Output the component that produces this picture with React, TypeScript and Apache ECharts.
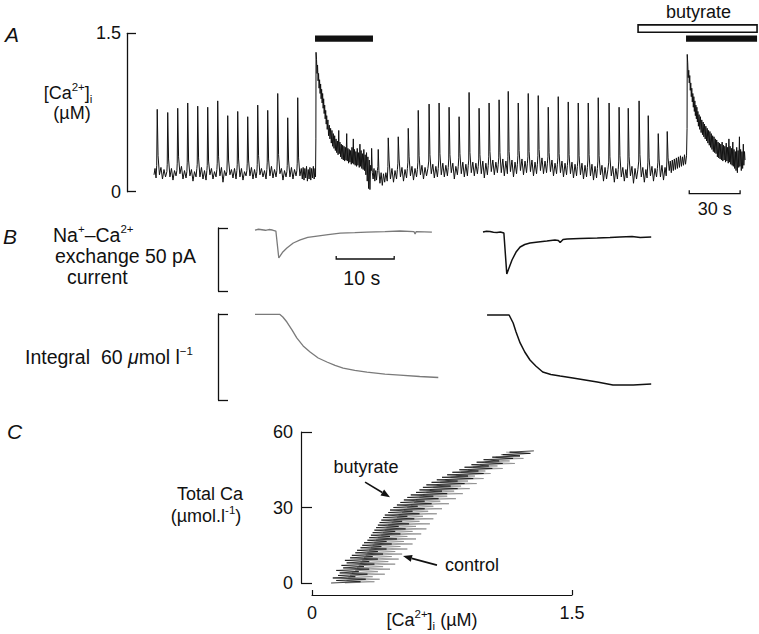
import React, { useEffect, useRef } from "react";
import * as echarts from "echarts";

const FONT = "'Liberation Sans', Arial, Helvetica, sans-serif";
const INK = "#111";
const GREY = "#7a7a7a";

// ---------- Panel A: [Ca2+]i trace (time s, µM) ----------
const caControl1: number[][] = [
  [0, 0.16], [0.6, 0.22], [1.2, 0.13], [1.6, 0.25],
  [1.9, 0.78], [2.4, 0.34], [3.2, 0.16], [4.1, 0.23], [5.0, 0.12], [5.9, 0.21], [6.8, 0.14], [7.6, 0.19], [7.8, 0.26],
  [8.1, 0.75], [8.6, 0.31], [9.4, 0.14], [10.3, 0.22], [11.2, 0.11], [12.1, 0.2], [13.0, 0.15], [13.5, 0.2], [13.7, 0.27],
  [14.0, 0.79], [14.5, 0.33], [15.3, 0.17], [16.2, 0.24], [17.1, 0.12], [18.0, 0.2], [18.9, 0.13], [19.4, 0.19], [19.6, 0.28],
  [19.9, 0.84], [20.4, 0.3], [21.2, 0.15], [22.1, 0.21], [23.0, 0.1], [23.9, 0.19], [24.8, 0.14], [25.3, 0.22], [25.5, 0.26],
  [25.8, 0.81], [26.3, 0.32], [27.1, 0.14], [28.0, 0.23], [28.9, 0.12], [29.8, 0.2], [30.7, 0.11], [31.2, 0.2], [31.4, 0.25],
  [31.7, 0.8], [32.2, 0.29], [33.0, 0.16], [33.9, 0.22], [34.8, 0.12], [35.7, 0.19], [36.6, 0.14], [37.1, 0.21], [37.3, 0.27],
  [37.6, 0.86], [38.1, 0.33], [38.9, 0.15], [39.8, 0.23], [40.7, 0.09], [41.6, 0.2], [42.5, 0.15], [43.0, 0.19], [43.2, 0.3],
  [43.5, 0.72], [44.0, 0.3], [44.8, 0.16], [45.7, 0.21], [46.6, 0.13], [47.5, 0.22], [48.4, 0.12], [48.9, 0.2], [49.1, 0.26],
  [49.4, 0.76], [49.9, 0.31], [50.7, 0.14], [51.6, 0.22], [52.5, 0.11], [53.4, 0.19], [54.3, 0.15], [54.8, 0.2], [55.0, 0.27],
  [55.3, 0.71], [55.8, 0.3], [56.6, 0.15], [57.5, 0.23], [58.4, 0.12], [59.3, 0.21], [60.2, 0.13], [60.7, 0.19], [60.9, 0.26],
  [61.2, 0.82], [61.7, 0.34], [62.5, 0.16], [63.4, 0.22], [64.3, 0.14], [65.2, 0.2], [66.1, 0.12], [66.6, 0.21], [66.8, 0.28],
  [67.1, 0.77], [67.6, 0.31], [68.4, 0.15], [69.3, 0.24], [70.2, 0.13], [71.1, 0.21], [72.0, 0.14], [72.5, 0.2], [72.7, 0.29],
  [73.0, 0.93], [73.5, 0.35], [74.3, 0.17], [75.2, 0.22], [76.1, 0.11], [77.0, 0.2], [77.9, 0.14], [78.4, 0.19], [78.6, 0.25],
  [78.9, 0.7], [79.4, 0.3], [80.2, 0.14], [81.1, 0.23], [82.0, 0.12], [82.9, 0.21], [83.8, 0.15], [84.3, 0.2], [84.5, 0.27],
  [84.8, 0.89], [85.3, 0.32], [86.1, 0.15], [86.9, 0.22],
  [87.5, 0.12], [88.0, 0.23], [88.5, 0.11], [89.0, 0.22], [89.5, 0.13], [90.0, 0.24], [90.5, 0.1], [91.0, 0.21],
  [91.5, 0.12], [92.0, 0.23], [92.5, 0.11], [93.0, 0.22], [93.5, 0.13], [94.0, 0.24], [94.5, 0.12], [95.0, 0.22], [95.3, 0.14],
];

const caFirstRelease: number[][] = [
  [95.5, 0.5], [95.6, 1.32],
  [95.9, 1.25], [96.2, 1.12], [96.5, 1.2], [96.8, 1.05], [97.1, 1.12], [97.4, 0.98], [97.7, 1.06], [98.0, 0.93],
  [98.3, 1.02], [98.6, 0.88], [98.9, 0.97], [99.2, 0.84], [99.5, 0.93], [99.8, 0.79], [100.1, 0.88], [100.4, 0.74],
  [100.7, 0.82], [101.0, 0.69], [101.3, 0.77], [101.6, 0.64], [101.9, 0.72], [102.2, 0.59], [102.6, 0.68], [103.0, 0.53],
  [103.4, 0.63], [103.8, 0.5], [104.2, 0.6], [104.6, 0.46], [105.0, 0.58], [105.4, 0.43], [105.8, 0.55], [106.2, 0.41],
  [106.6, 0.53], [107.0, 0.39], [107.4, 0.5], [107.8, 0.37], [108.2, 0.48], [108.6, 0.35], [109.0, 0.58], [109.3, 0.36],
  [109.7, 0.47], [110.1, 0.33], [110.5, 0.45], [110.9, 0.31], [111.3, 0.44], [111.7, 0.3], [112.1, 0.43], [112.5, 0.29],
  [112.9, 0.42], [113.3, 0.3], [113.7, 0.55], [114.0, 0.29], [114.4, 0.41], [114.8, 0.27], [115.2, 0.4], [115.6, 0.28],
  [116.0, 0.39], [116.4, 0.26], [116.8, 0.42], [117.2, 0.27], [117.6, 0.5], [117.9, 0.26], [118.3, 0.4], [118.7, 0.25],
  [119.1, 0.38], [119.5, 0.24], [119.9, 0.41], [120.3, 0.25], [120.7, 0.37], [121.1, 0.23], [121.5, 0.45], [121.8, 0.24],
  [122.2, 0.39], [122.6, 0.22], [123.0, 0.36], [123.4, 0.21], [123.8, 0.4], [124.2, 0.2], [124.6, 0.35], [125.0, 0.16],
  [125.4, 0.37], [125.8, 0.1], [126.2, 0.33], [126.6, 0.03], [127.0, 0.3], [127.4, 0.02], [127.8, 0.25],
];

const caControl2: number[][] = [
  [128.2, 0.2], [128.4, 0.41], [128.8, 0.18], [129.3, 0.12], [129.8, 0.22], [130.3, 0.1], [130.8, 0.2], [131.3, 0.11], [131.8, 0.2], [132.1, 0.24],
  [132.3, 0.4], [132.7, 0.2], [133.3, 0.08], [134.0, 0.18], [134.7, 0.06], [135.4, 0.17], [136.1, 0.09], [136.8, 0.18], [137.6, 0.1], [138.0, 0.24],
  [138.2, 0.51], [138.7, 0.3], [139.5, 0.12], [140.4, 0.22], [141.3, 0.09], [142.2, 0.2], [143.1, 0.12], [143.6, 0.21],
  [143.9, 0.27], [144.1, 0.52], [144.6, 0.31], [145.4, 0.14], [146.3, 0.23], [147.2, 0.1], [148.1, 0.21], [149.0, 0.13], [149.5, 0.22],
  [149.8, 0.28], [150.0, 0.6], [150.5, 0.33], [151.3, 0.15], [152.2, 0.24], [153.1, 0.11], [154.0, 0.22], [154.9, 0.14], [155.4, 0.21],
  [155.7, 0.28], [155.9, 0.77], [156.4, 0.34], [157.2, 0.16], [158.1, 0.25], [159.0, 0.12], [159.9, 0.23], [160.8, 0.15], [161.6, 0.22],
  [162.1, 0.29], [162.3, 0.83], [162.8, 0.35], [163.6, 0.17], [164.5, 0.26], [165.4, 0.13], [166.3, 0.24], [167.2, 0.14], [167.7, 0.22],
  [168.0, 0.3], [168.2, 0.84], [168.7, 0.36], [169.5, 0.16], [170.4, 0.27], [171.3, 0.14], [172.2, 0.25], [173.1, 0.15], [173.6, 0.23],
  [173.9, 0.31], [174.1, 0.8], [174.6, 0.35], [175.4, 0.18], [176.3, 0.27], [177.2, 0.12], [178.1, 0.24], [179.0, 0.16], [179.5, 0.24],
  [179.8, 0.32], [180.0, 0.71], [180.5, 0.36], [181.3, 0.17], [182.2, 0.28], [183.1, 0.14], [184.0, 0.26], [184.9, 0.15], [185.4, 0.25],
  [185.7, 0.3], [185.9, 0.94], [186.4, 0.37], [187.2, 0.18], [188.1, 0.28], [189.0, 0.15], [189.9, 0.27], [190.8, 0.17], [191.3, 0.24],
  [191.6, 0.31], [191.8, 0.79], [192.3, 0.35], [193.1, 0.17], [194.0, 0.29], [194.9, 0.13], [195.8, 0.27], [196.7, 0.16], [197.2, 0.25],
  [197.5, 0.33], [197.7, 0.84], [198.2, 0.38], [199.0, 0.19], [199.9, 0.3], [200.8, 0.16], [201.7, 0.28], [202.6, 0.18], [203.1, 0.26],
  [203.4, 0.32], [203.6, 0.87], [204.1, 0.37], [204.9, 0.18], [205.8, 0.31], [206.7, 0.15], [207.6, 0.29], [208.5, 0.17],
  [208.8, 0.33], [209.0, 0.95], [209.5, 0.38], [210.3, 0.19], [211.2, 0.3], [212.1, 0.14], [213.0, 0.28], [213.9, 0.17], [214.4, 0.26],
  [214.7, 0.34], [214.9, 0.84], [215.4, 0.39], [216.2, 0.2], [217.1, 0.31], [218.0, 0.16], [218.9, 0.29], [219.8, 0.18], [220.3, 0.27],
  [220.6, 0.33], [220.8, 0.93], [221.3, 0.38], [222.1, 0.19], [223.0, 0.3], [223.9, 0.15], [224.8, 0.28], [225.7, 0.17], [226.2, 0.26],
  [226.5, 0.34], [226.7, 0.91], [227.2, 0.4], [228.0, 0.2], [228.9, 0.32], [229.8, 0.17], [230.7, 0.29], [231.6, 0.18], [232.1, 0.27],
  [232.4, 0.33], [232.6, 0.8], [233.1, 0.37], [233.9, 0.19], [234.8, 0.3], [235.7, 0.15], [236.6, 0.27], [237.5, 0.17], [238.0, 0.26],
  [238.3, 0.32], [238.5, 0.9], [239.0, 0.36], [239.8, 0.18], [240.7, 0.29], [241.6, 0.14], [242.5, 0.27], [243.4, 0.16], [243.9, 0.25],
  [244.2, 0.31], [244.4, 0.85], [244.9, 0.35], [245.7, 0.17], [246.6, 0.28], [247.5, 0.13], [248.4, 0.26], [249.3, 0.15], [249.8, 0.24],
  [250.1, 0.3], [250.3, 0.84], [250.8, 0.34], [251.6, 0.16], [252.5, 0.27], [253.4, 0.12], [254.3, 0.25], [255.2, 0.14], [255.7, 0.23],
  [256.0, 0.3], [256.2, 0.84], [256.7, 0.35], [257.5, 0.15], [258.4, 0.26], [259.3, 0.11], [260.2, 0.24], [261.1, 0.13], [261.6, 0.22],
  [261.9, 0.29], [262.1, 0.89], [262.6, 0.34], [263.4, 0.16], [264.3, 0.25], [265.2, 0.1], [266.1, 0.23], [267.0, 0.12], [267.8, 0.21],
  [268.3, 0.28], [268.5, 0.84], [269.0, 0.33], [269.8, 0.15], [270.7, 0.24], [271.6, 0.09], [272.5, 0.22], [273.4, 0.12], [273.9, 0.21],
  [274.2, 0.29], [274.4, 0.8], [274.9, 0.34], [275.7, 0.14], [276.6, 0.23], [277.5, 0.1], [278.4, 0.21], [279.1, 0.13],
  [279.6, 0.28], [279.8, 0.79], [280.3, 0.33], [281.1, 0.15], [282.0, 0.24], [282.9, 0.08], [283.8, 0.22], [284.7, 0.12], [285.5, 0.21],
  [286.0, 0.29], [286.2, 0.86], [286.7, 0.35], [287.5, 0.14], [288.4, 0.23], [289.3, 0.09], [290.2, 0.21], [290.9, 0.13],
  [291.4, 0.28], [291.6, 0.72], [292.1, 0.32], [292.9, 0.15], [293.8, 0.24], [294.7, 0.1], [295.6, 0.22], [296.5, 0.14], [297.0, 0.22],
  [297.3, 0.28], [297.5, 0.55], [298.0, 0.31], [298.8, 0.14], [299.7, 0.25], [300.6, 0.11], [301.5, 0.23], [302.2, 0.15],
  [302.6, 0.29], [302.8, 0.57], [303.3, 0.32], [304.0, 0.2], [304.6, 0.29], [305.2, 0.18], [305.8, 0.3], [306.4, 0.2],
  [307.0, 0.31], [307.6, 0.21], [308.2, 0.32], [308.8, 0.22], [309.4, 0.33], [310.0, 0.23], [310.6, 0.34], [311.2, 0.24],
  [311.8, 0.33], [312.4, 0.25], [313.0, 0.35], [313.6, 0.26], [314.2, 0.34],
];

const caButyrate: number[][] = [
  [314.5, 0.6], [314.6, 1.3],
  [314.9, 1.22], [315.2, 1.08], [315.5, 1.15], [315.8, 1.03], [316.1, 1.1], [316.4, 0.96], [316.7, 1.03], [317.0, 0.9],
  [317.3, 0.98], [317.6, 0.85], [317.9, 0.93], [318.2, 0.8], [318.5, 0.9], [318.8, 0.76], [319.1, 0.86], [319.4, 0.72],
  [319.7, 0.82], [320.0, 0.69], [320.3, 0.8], [320.6, 0.66], [320.9, 0.76], [321.2, 0.62], [321.6, 0.73], [322.0, 0.59],
  [322.4, 0.71], [322.8, 0.56], [323.2, 0.68], [323.6, 0.54], [324.0, 0.66], [324.4, 0.52], [324.8, 0.64], [325.2, 0.5],
  [325.6, 0.62], [326.0, 0.48], [326.4, 0.6], [326.8, 0.46], [327.2, 0.58], [327.6, 0.44], [328.0, 0.57], [328.4, 0.42],
  [328.8, 0.55], [329.2, 0.4], [329.6, 0.53], [330.0, 0.38], [330.4, 0.52], [330.8, 0.37], [331.2, 0.5], [331.6, 0.36],
  [332.0, 0.49], [332.4, 0.33], [332.8, 0.47], [333.2, 0.32], [333.6, 0.46], [334.0, 0.31], [334.4, 0.45], [334.8, 0.3],
  [335.2, 0.47], [335.6, 0.29], [336.0, 0.44], [336.4, 0.3], [336.8, 0.43], [337.2, 0.28], [337.6, 0.46], [338.0, 0.29],
  [338.4, 0.42], [338.8, 0.27], [339.2, 0.5], [339.5, 0.28], [339.9, 0.43], [340.3, 0.26], [340.7, 0.41], [341.1, 0.25],
  [341.5, 0.47], [341.8, 0.24], [342.2, 0.4], [342.6, 0.22], [343.0, 0.38], [343.4, 0.2], [343.8, 0.42], [344.2, 0.18],
  [344.6, 0.39], [345.0, 0.23], [345.4, 0.52], [345.7, 0.24], [346.1, 0.4], [346.5, 0.2], [346.9, 0.38], [347.3, 0.22],
  [347.7, 0.45], [348.0, 0.25], [348.4, 0.38], [348.7, 0.3],
];

// application bars (s) and time scale bar
const firstBar = [95.0, 129.2];
const butyrateOpenBar = [285.6, 355.8];
const secondBar = [313.9, 355.8];
const timeScaleA = [315.8, 345.8]; // 30 s

// ---------- Panel B: exchange current (pA) and its integral (µmol/l) ----------
const currentControl: number[][] = [
  [0, -1.6], [0.6, -1.0], [1.2, -1.4], [1.8, -1.8], [2.4, -1.2], [3.0, -1.6], [3.6, -2.4], [4.1, -23.8],
  [4.8, -19.0], [5.5, -15.9], [6.6, -11.9], [7.8, -9.5], [9.1, -7.5], [10.7, -6.4], [12.6, -5.2], [14.7, -4.0],
  [17.2, -3.6], [19.3, -3.2], [22.4, -2.8], [25.0, -2.4], [27.4, -2.8], [27.6, -4.8], [27.8, -2.8], [29.2, -3.0], [30.5, -3.2],
];
const currentButyrate: number[][] = [
  [0, -3.2], [0.6, -2.6], [1.2, -2.8], [1.8, -3.4], [2.4, -3.6], [3.0, -3.2], [3.6, -4.0], [4.1, -36.5],
  [5.0, -25.4], [5.7, -19.1], [6.4, -15.1], [7.2, -13.1], [8.1, -11.9], [9.5, -11.1], [11.0, -10.3], [12.4, -9.5],
  [13.0, -9.9], [13.3, -11.5], [13.8, -9.1], [14.5, -8.7], [16.7, -8.3], [19.7, -7.9], [21.9, -7.5], [23.6, -7.1],
  [25.7, -6.7], [27.1, -7.5], [29.0, -7.1],
];
const integralControl: number[][] = [
  [0, -0.3], [4.3, -0.3], [4.8, -2.1], [5.5, -5.6], [6.4, -11.2], [7.2, -16.7], [8.3, -22.3], [9.5, -26.5],
  [10.9, -30.7], [12.4, -33.5], [13.8, -35.9], [15.2, -37.7], [17.2, -39.4], [19.3, -40.5], [22.4, -41.9],
  [25.0, -42.6], [28.4, -43.6], [31.6, -44.3],
];
const integralButyrate: number[][] = [
  [0.7, -0.7], [4.5, -0.7], [5.2, -6.3], [5.7, -12.6], [6.4, -20.2], [7.2, -26.5], [8.1, -32.1], [9.1, -36.3],
  [10.3, -40.5], [11.7, -42.2], [13.3, -43.3], [15.5, -44.7], [17.6, -46.1], [19.7, -47.5], [22.4, -49.5],
  [25.9, -49.5], [29.0, -48.8],
];
const timeScaleB = [14, 24]; // 10 s

// ---------- Panel C: total Ca (µmol/l) vs [Ca2+]i (µM) ----------
const totalCaControl: number[][] = [
  [0.19, 0], [0.36, 0.5], [0.2, 1], [0.39, 1.5], [0.21, 2], [0.35, 2.5], [0.22, 3], [0.42, 3.5], [0.23, 4], [0.38, 4.5],
  [0.25, 5], [0.45, 5.5], [0.26, 6], [0.41, 6.5], [0.27, 7], [0.48, 7.5], [0.28, 8], [0.44, 8.5], [0.29, 9], [0.5, 9.5],
  [0.3, 10], [0.46, 10.5], [0.31, 11], [0.52, 11.5], [0.32, 12], [0.48, 12.5], [0.33, 13], [0.55, 13.5], [0.34, 14], [0.51, 14.5],
  [0.35, 15], [0.58, 15.5], [0.36, 16], [0.53, 16.5], [0.37, 17], [0.6, 17.5], [0.38, 18], [0.55, 18.5], [0.4, 19], [0.63, 19.5],
  [0.41, 20], [0.58, 20.5], [0.42, 21], [0.66, 21.5], [0.43, 22], [0.6, 22.5], [0.44, 23], [0.68, 23.5], [0.46, 24], [0.62, 24.5],
  [0.47, 25], [0.7, 25.5], [0.49, 26], [0.64, 26.5], [0.5, 27], [0.72, 27.5], [0.52, 28], [0.67, 28.5], [0.53, 29], [0.75, 29.5],
  [0.55, 30], [0.7, 30.5], [0.57, 31], [0.79, 31.5], [0.59, 32], [0.74, 32.5], [0.6, 33], [0.83, 33.5], [0.62, 34], [0.78, 34.5],
  [0.64, 35], [0.87, 35.5], [0.66, 36], [0.82, 36.5], [0.68, 37], [0.91, 37.5], [0.7, 38], [0.86, 38.5], [0.72, 39], [0.95, 39.5],
  [0.74, 40], [0.9, 40.5], [0.77, 41], [0.99, 41.5], [0.8, 42], [0.94, 42.5], [0.83, 43], [1.03, 43.5], [0.86, 44], [1.0, 44.5],
  [0.9, 45], [1.1, 45.5], [0.93, 46], [1.07, 46.5], [0.97, 47], [1.17, 47.5], [1.0, 48], [1.14, 48.5], [1.03, 49], [1.22, 49.5],
  [1.06, 50], [1.2, 50.5], [1.09, 51], [1.25, 51.5], [1.12, 52],
];
const totalCaButyrate: number[][] = [
  [0.11, 0], [0.28, 0.5], [0.14, 1], [0.31, 1.5], [0.12, 2], [0.25, 2.5], [0.15, 3], [0.32, 3.5], [0.16, 4], [0.27, 4.5],
  [0.14, 5], [0.33, 5.5], [0.18, 6], [0.3, 6.5], [0.17, 7], [0.36, 7.5], [0.2, 8], [0.33, 8.5], [0.19, 9], [0.38, 9.5],
  [0.22, 10], [0.35, 10.5], [0.23, 11], [0.41, 11.5], [0.25, 12], [0.38, 12.5], [0.26, 13], [0.43, 13.5], [0.28, 14], [0.4, 14.5],
  [0.29, 15], [0.46, 15.5], [0.3, 16], [0.43, 16.5], [0.32, 17], [0.49, 17.5], [0.33, 18], [0.45, 18.5], [0.34, 19], [0.51, 19.5],
  [0.35, 20], [0.48, 20.5], [0.36, 21], [0.54, 21.5], [0.37, 22], [0.5, 22.5], [0.38, 23], [0.56, 23.5], [0.39, 24], [0.52, 24.5],
  [0.4, 25], [0.59, 25.5], [0.41, 26], [0.55, 26.5], [0.42, 27], [0.62, 27.5], [0.44, 28], [0.58, 28.5], [0.45, 29], [0.65, 29.5],
  [0.47, 30], [0.61, 30.5], [0.49, 31], [0.69, 31.5], [0.51, 32], [0.65, 32.5], [0.53, 33], [0.73, 33.5], [0.55, 34], [0.7, 34.5],
  [0.57, 35], [0.78, 35.5], [0.6, 36], [0.75, 36.5], [0.62, 37], [0.84, 37.5], [0.64, 38], [0.8, 38.5], [0.66, 39], [0.88, 39.5],
  [0.69, 40], [0.84, 40.5], [0.72, 41], [0.93, 41.5], [0.75, 42], [0.9, 42.5], [0.78, 43], [0.99, 43.5], [0.81, 44], [0.96, 44.5],
  [0.85, 45], [1.04, 45.5], [0.88, 46], [1.02, 46.5], [0.92, 47], [1.1, 47.5], [0.95, 48], [1.08, 48.5], [0.99, 49], [1.16, 49.5],
  [1.04, 50], [1.2, 50.5], [1.1, 51], [1.26, 51.5], [1.14, 52], [1.28, 52.5],
];
const butyrateArrow = [[0.306, 40.1], [0.45, 34.1]];
const controlArrow = [[0.721, 7.1], [0.525, 10.7]];

const txtStyle = (extra: any = {}) => ({
  fontFamily: FONT,
  fontSize: 18,
  fill: INK,
  ...extra,
});

const RICH = {
  sup: { fontSize: 11.5, lineHeight: 14, verticalAlign: "top", fontFamily: FONT, fill: INK },
  sub: { fontSize: 11.5, lineHeight: 12, verticalAlign: "bottom", fontFamily: FONT, fill: INK },
  mu: { fontStyle: "italic", fontFamily: FONT, fill: INK },
};

function text(x: number, y: number, t: string, align = "left", extra: any = {}) {
  const fs = extra.fontSize || 18;
  return {
    type: "text",
    x,
    y,
    z: 10,
    style: txtStyle({
      text: t, align, verticalAlign: "middle", lineHeight: 24,
      rich: { ...RICH, mu: { ...RICH.mu, fontSize: fs } },
      ...extra,
    }),
  };
}

function arrowEls(a: number[], b: number[]) {
  const dx = b[0] - a[0];
  const dy = b[1] - a[1];
  const L = Math.hypot(dx, dy);
  const ux = dx / L, uy = dy / L;
  const hl = 9, hw = 3.5;
  const bx = b[0] - ux * hl, by = b[1] - uy * hl;
  return [
    { type: "line", z: 10, shape: { x1: a[0], y1: a[1], x2: bx, y2: by }, style: { stroke: INK, lineWidth: 1.6 } },
    {
      type: "polygon",
      z: 10,
      shape: { points: [[b[0], b[1]], [bx - uy * hw, by + ux * hw], [bx + uy * hw, by - ux * hw]] },
      style: { fill: INK },
    },
  ];
}

const hiddenX = (gridIndex: number, max: number) => ({
  type: "value", gridIndex, min: 0, max, show: false,
});

export default function App() {
  const ref = useRef<HTMLDivElement>(null);

  useEffect(() => {
    if (!ref.current) return;
    const chart = echarts.init(ref.current, null, { renderer: "svg" });
    const axisLab = { fontFamily: FONT, fontSize: 18, color: INK };
    const bracketY = (gridIndex: number, min: number) => ({
      type: "value", gridIndex, min, max: 0, interval: -min, offset: 37,
      axisLine: { show: true, onZero: false, lineStyle: { color: INK, width: 1.3 } },
      axisTick: { show: true, inside: true, length: 10, lineStyle: { color: INK, width: 1.3 } },
      axisLabel: { show: false }, splitLine: { show: false },
    });
    const line = (data: number[][], idx: number, color: string, width: number) => ({
      type: "line", xAxisIndex: idx, yAxisIndex: idx, data, showSymbol: false, symbol: "none",
      clip: false, lineStyle: { color, width }, silent: true,
    });

    const option: any = {
      animation: false,
      backgroundColor: "#fff",
      grid: [
        { left: 154, top: 33.3, width: 356 / 0.59, height: 158.4 },
        { left: 255, top: 228, width: 34 * 5.8, height: 63 },
        { left: 483, top: 228, width: 34 * 5.8, height: 63 },
        { left: 255, top: 314, width: 34 * 5.8, height: 86 },
        { left: 483, top: 314, width: 34 * 5.8, height: 86 },
        { left: 312, top: 432, width: 260, height: 151 },
      ],
      xAxis: [
        hiddenX(0, 356),
        hiddenX(1, 34),
        hiddenX(2, 34),
        hiddenX(3, 34),
        hiddenX(4, 34),
        {
          type: "value", gridIndex: 5, min: 0, max: 1.5, interval: 1.5, offset: 12,
          axisLine: { show: true, onZero: false, lineStyle: { color: INK, width: 1.2 } },
          axisTick: { show: true, inside: true, length: 5, lineStyle: { color: INK, width: 1.2 } },
          axisLabel: { ...axisLab, margin: 9 }, splitLine: { show: false },
        },
      ],
      yAxis: [
        {
          type: "value", gridIndex: 0, min: 0, max: 1.5, interval: 1.5, offset: 27,
          axisLine: { show: true, onZero: false, lineStyle: { color: INK, width: 1.3 } },
          axisTick: { show: true, inside: true, length: 9, lineStyle: { color: INK, width: 1.3 } },
          axisLabel: { ...axisLab, margin: 6 }, splitLine: { show: false },
        },
        bracketY(1, -50),
        { type: "value", gridIndex: 2, min: -50, max: 0, show: false },
        bracketY(3, -60),
        { type: "value", gridIndex: 4, min: -60, max: 0, show: false },
        {
          type: "value", gridIndex: 5, min: 0, max: 60, interval: 30, offset: 11,
          axisLine: { show: true, onZero: false, lineStyle: { color: INK, width: 1.2 } },
          axisTick: { show: true, inside: true, length: 11, lineStyle: { color: INK, width: 1.2 } },
          axisLabel: { ...axisLab, margin: 8 }, splitLine: { show: false },
        },
      ],
      series: [
        line([...caControl1, ...caFirstRelease, ...caControl2, ...caButyrate], 0, INK, 1),
        line(currentControl, 1, GREY, 1.3),
        line(currentButyrate, 2, INK, 1.5),
        line(integralControl, 3, GREY, 1.3),
        line(integralButyrate, 4, INK, 1.5),
        line(totalCaControl, 5, "#8c8c8c", 0.8),
        line(totalCaButyrate, 5, INK, 0.8),
      ],
    };
    chart.setOption(option);

    const p = (g: number, v: number[]) => chart.convertToPixel({ gridIndex: g } as any, v) as number[];
    const rectBetween = (g: number, a: number[], b: number[], style: any) => {
      const pa = p(g, a), pb = p(g, b);
      return {
        type: "rect", z: 10,
        shape: { x: Math.min(pa[0], pb[0]), y: Math.min(pa[1], pb[1]), width: Math.abs(pb[0] - pa[0]), height: Math.abs(pb[1] - pa[1]) },
        style,
      };
    };

    const sA0 = p(0, [timeScaleA[0], 0]);
    const sA1 = p(0, [timeScaleA[1], 0]);
    const sB0 = p(1, [timeScaleB[0], -24.6]);
    const sB1 = p(1, [timeScaleB[1], -24.6]);
    const labButA = p(0, [(butyrateOpenBar[0] + butyrateOpenBar[1]) / 2 + 0.5, 1.7]);
    const lab30 = p(0, [(timeScaleA[0] + timeScaleA[1]) / 2, -0.16]);
    const lab10 = p(1, [(timeScaleB[0] + timeScaleB[1]) / 2 - 0.6, -39.7]);
    const labButC = p(5, [0.312, 46.1]);
    const labCtlC = p(5, [0.923, 7.1]);
    const B = { fontSize: 19.5 };

    const graphic: any[] = [
      // Panel A annotations
      rectBetween(0, [firstBar[0], 1.48], [firstBar[1], 1.42], { fill: INK }),
      rectBetween(0, [butyrateOpenBar[0], 1.58], [butyrateOpenBar[1], 1.51], { fill: "#fff", stroke: INK, lineWidth: 1.6 }),
      rectBetween(0, [secondBar[0], 1.48], [secondBar[1], 1.42], { fill: INK }),
      {
        type: "polyline", z: 10,
        shape: { points: [[sA0[0], sA0[1] - 1.5], [sA0[0], sA0[1] + 2], [sA1[0], sA1[1] + 2], [sA1[0], sA1[1] - 1.5]] },
        style: { stroke: INK, lineWidth: 1.3, fill: null },
      },
      text(labButA[0], labButA[1], "butyrate", "center"),
      text(lab30[0], lab30[1], "30 s", "center"),
      text(5, 34, "A", "left", { fontSize: 21, fontStyle: "italic" }),
      text(68, 93, "[Ca{sup|2+}]{sub|i}", "center"),
      text(72, 113, "(µM)", "center"),
      // Panel B annotations
      {
        type: "polyline", z: 10,
        shape: { points: [[sB0[0], sB0[1] - 3], [sB0[0], sB0[1]], [sB1[0], sB1[1]], [sB1[0], sB1[1] - 3]] },
        style: { stroke: INK, lineWidth: 1.3, fill: null },
      },
      text(lab10[0], lab10[1], "10 s", "center", B),
      text(3, 236, "B", "left", { fontSize: 21, fontStyle: "italic" }),
      text(53, 235, "Na{sup|+}–Ca{sup|2+}", "left", B),
      text(55, 256, "exchange 50 pA", "left", B),
      text(67, 277, "current", "left", B),
      text(25, 357, "Integral  60 {mu|μ}mol l{sup|−1}", "left", B),
      // Panel C annotations
      text(7, 431, "C", "left", { fontSize: 21, fontStyle: "italic" }),
      text(210, 494, "Total Ca", "center"),
      text(206, 516, "(µmol.l{sup|-1})", "center"),
      text(432, 620, "[Ca{sup|2+}]{sub|i} (µM)", "center"),
      text(labButC[0], labButC[1], "butyrate", "center"),
      text(labCtlC[0], labCtlC[1], "control", "center"),
      ...arrowEls(p(5, butyrateArrow[0]), p(5, butyrateArrow[1])),
      ...arrowEls(p(5, controlArrow[0]), p(5, controlArrow[1])),
    ];
    chart.setOption({ graphic });

    return () => chart.dispose();
  }, []);

  return (
    <div
      ref={ref}
      style={{ position: "fixed", left: 0, top: 0, width: 759, height: 634, background: "#fff" }}
    />
  );
}
